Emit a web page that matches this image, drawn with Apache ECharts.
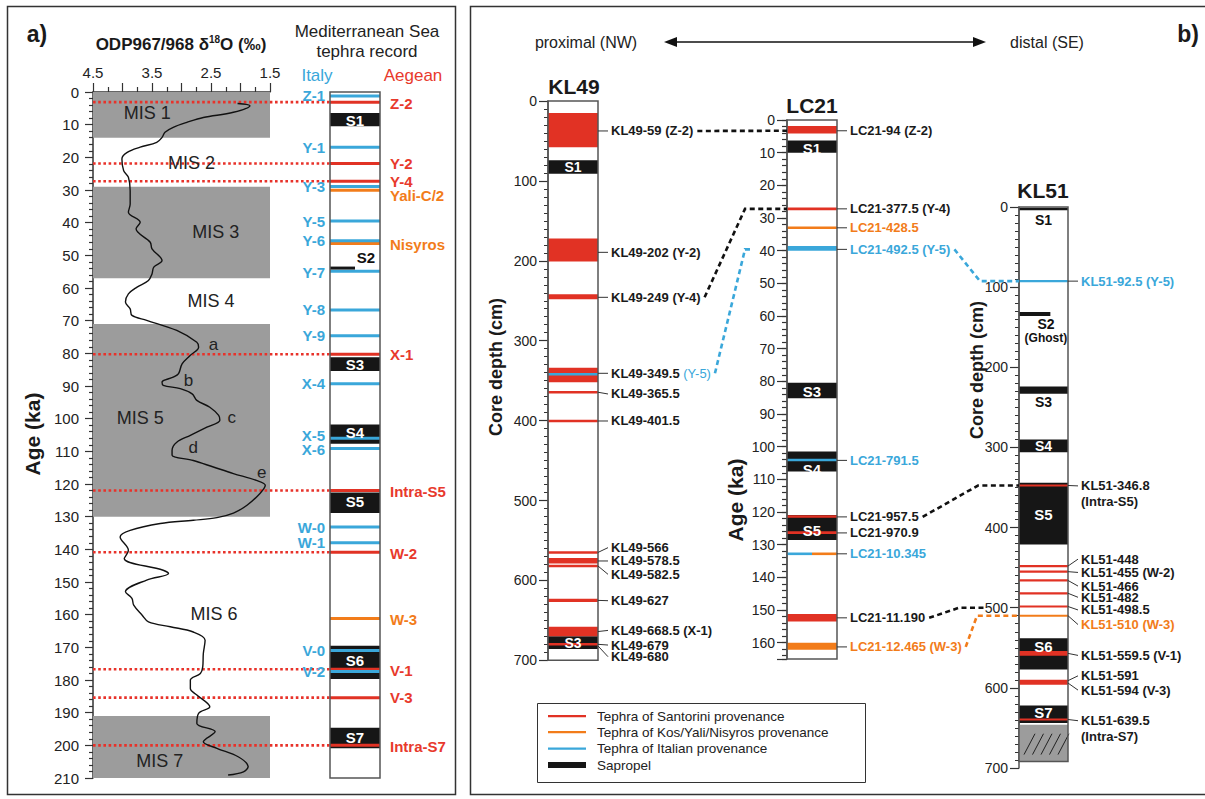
<!DOCTYPE html>
<html lang="en">
<head>
<meta charset="UTF-8">
<title>Mediterranean tephra record</title>
<script src="https://cdn.jsdelivr.net/npm/echarts@6/dist/echarts.min.js"></script>
<style>
html, body { margin: 0; padding: 0; background: #fff; }
#chart { width: 1205px; height: 799px; }
</style>
</head>
<body>
<div id="chart"></div>
<script>
// ---------- panel a: ODP967/968 d18O (age ka, per mil) ----------
var d18oAge = [3.5, 4.2, 6.2, 7.8, 9.3, 10.8, 12.3, 13.9, 15.4, 16.9, 18.5, 20.5, 24.1, 26.1, 30.2, 34.3, 36.8, 39.9, 41.9, 46.0,
  48.0, 51.6, 53.6, 55.7, 57.7, 59.8, 61.8, 64.3, 66.4, 68.4, 69.9, 73.0, 76.6, 78.1, 80.6, 83.2, 86.2, 87.3, 88.8, 89.8,
  90.8, 92.4, 94.4, 96.5, 99.0, 100.5, 102.6, 105.1, 107.2, 109.7, 111.2, 112.8, 114.8, 116.8, 118.9, 120.4, 122.9, 126.5, 128.9, 130.3,
  131.1, 132.1, 134.2, 136.2, 140.3, 142.8, 146.4, 147.4, 149.4, 153.0, 155.0, 157.1, 160.1, 162.2, 163.7, 165.3, 167.8, 171.9, 176.0, 178.0,
  180.0, 182.6, 184.6, 188.2, 190.2, 193.3, 195.8, 198.9, 200.9, 203.5, 206.5, 208.1, 209.1];
var d18oVal = [2.05, 1.84, 2.12, 2.63, 2.91, 3.14, 3.28, 3.33, 3.42, 3.70, 3.92, 4.01, 3.98, 3.90, 3.87, 3.87, 3.90, 3.70, 3.77, 3.53,
  3.50, 3.33, 3.47, 3.50, 3.56, 3.76, 3.90, 3.95, 3.87, 3.84, 3.59, 3.08, 2.74, 2.71, 2.85, 2.99, 3.05, 3.14, 3.33, 3.31,
  3.02, 2.82, 2.74, 2.52, 2.37, 2.35, 2.57, 2.85, 3.08, 3.16, 3.16, 2.80, 2.46, 2.12, 1.73, 1.58, 1.67, 1.89, 2.12, 2.40,
  2.80, 3.36, 3.87, 4.04, 3.90, 3.97, 3.31, 3.22, 3.59, 3.95, 3.84, 3.81, 3.67, 3.56, 3.19, 2.80, 2.60, 2.63, 2.64, 2.68,
  2.85, 2.85, 2.74, 2.52, 2.71, 2.74, 2.43, 2.63, 2.40, 2.04, 1.87, 1.95, 2.21];
var misBands = [[0, 14], [29, 57], [71, 130], [191, 210]];
var misNames = ['MIS 1', 'MIS 2', 'MIS 3', 'MIS 4', 'MIS 5', 'MIS 6', 'MIS 7'];
var misAt = [[3.58, 6.5], [2.83, 21.7], [2.42, 42.8], [2.50, 64.0], [3.70, 99.9], [2.45, 159.8], [3.37, 204.7]];
var subStages = [['a', 2.46, 77.4], ['b', 2.88, 88.4], ['c', 2.15, 99.6], ['d', 2.80, 108.9], ['e', 1.64, 116.4]];

// Mediterranean Sea tephra record: [name, age, label age]
var medItaly = [['Z-1', 1.2, 1.2], ['Y-1', 16.9, 16.9], ['Y-3', 28.9, 29.0], ['Y-5', 39.5, 39.5], ['Y-6', 45.5, 45.5],
  ['Y-7', 54.9, 55.3], ['Y-8', 66.7, 66.7], ['Y-9', 74.6, 74.6], ['X-4', 89.3, 89.3], ['X-5', 106.0, 105.0],
  ['X-6', 109.1, 109.5], ['W-0', 133.2, 133.2], ['W-1', 138.0, 138.0], ['V-0', 171.0, 171.0], ['V-2', 177.4, 177.4]];
var medAegean = [['Z-2', 3.1, 3.4], ['Y-2', 21.9, 21.9], ['Y-4', 27.3, 27.3], ['X-1', 80.3, 80.3], ['Intra-S5', 122.0, 122.3],
  ['W-2', 140.9, 141.2], ['V-1', 176.7, 177.0], ['V-3', 185.4, 185.4], ['Intra-S7', 200.0, 200.3]];
var medKos = [['Yali-C/2', 30.1, 31.7], ['Nisyros', 46.4, 46.7], ['W-3', 161.2, 161.4]];
var medSapropels = [['S1', 6.4, 10.5], ['S3', 81.2, 85.4], ['S4', 101.8, 107.7], ['S5', 122.6, 128.9], ['S6', 169.5, 179.7], ['S7', 194.6, 200.9]];
var medS2 = 53.9;

// ---------- panel b cores ----------
// KL49, depth in cm
var kl49Sapropels = [['S1', 74, 91], ['S3', 670, 686]];
var kl49Santorini = [[15, 58], [172, 201], [242, 248], [334, 352], [364.5, 364.5], [400.5, 400.5], [565, 565], [572, 579], [582, 582], [623, 627], [658, 670], [680, 680]];
var kl49Italian = [[342, 342]];
var kl49Labels = [['KL49-59 (Z-2)', 37.5], ['KL49-202 (Y-2)', 189.4], ['KL49-249 (Y-4)', 245.7], ['KL49-349.5', 340.8, '(Y-5)'],
  ['KL49-365.5', 364.5], ['KL49-401.5', 400.5], ['KL49-566', 565], ['KL49-578.5', 575.7], ['KL49-582.5', 582],
  ['KL49-627', 625], ['KL49-668.5 (X-1)', 664], ['KL49-679', 680], ['KL49-680', 682]];
var kl49LabelAt = [37.5, 189.4, 245.7, 340.8, 366.7, 400.5, 559, 575.7, 592.4, 625.4, 662.6, 680.9, 695.5];

// LC21, age in ka
var lc21Sapropels = [['S1', 6.3, 10.0], ['S3', 80.4, 85.2], ['S4', 101.5, 107.6], ['S5', 120.9, 128.6]];
var lc21Santorini = [[1.8, 4.1], [27.2, 27.2], [121.4, 121.4], [126.3, 126.3], [151.2, 153.5]];
var lc21Kos = [[33.0, 33.0], [160.0, 162.2]];
var lc21Italian = [[38.6, 40.0], [104.1, 104.1]];
var lc21Mixed = [132.8];
var lc21Labels = [['LC21-94 (Z-2)', 3.3, 'S'], ['LC21-377.5 (Y-4)', 27.2, 'S'], ['LC21-428.5', 33.0, 'K'], ['LC21-492.5 (Y-5)', 39.6, 'I'],
  ['LC21-791.5', 104.2, 'I'], ['LC21-957.5', 121.5, 'S'], ['LC21-970.9', 126.4, 'S'], ['LC21-10.345', 132.8, 'I'],
  ['LC21-11.190', 152.4, 'S'], ['LC21-12.465 (W-3)', 161.3, 'K']];

// KL51, depth in cm
var kl51Sapropels = [['S1', 1, 4], ['S3', 224, 233], ['S4', 290, 306], ['S5', 344, 421], ['S6', 538, 577], ['S7', 622, 644]];
var kl51Ghost = [131, 136];
var kl51Santorini = [[347.5, 347.5], [448, 448], [455, 455], [466, 466], [482, 482], [498.5, 498.5], [554, 560], [590, 596], [639.5, 639.5]];
var kl51Kos = [[510, 510]];
var kl51Italian = [[92.5, 92.5]];
var kl51Base = [646, 692];
var kl51Labels = [['KL51-92.5 (Y-5)', 92.5, 'I'], ['KL51-346.8', 347.5, 'S'], ['(Intra-S5)', null, 'S'], ['KL51-448', 448, 'S'],
  ['KL51-455 (W-2)', 455, 'S'], ['KL51-466', 466, 'S'], ['KL51-482', 482, 'S'], ['KL51-498.5', 498.5, 'S'],
  ['KL51-510 (W-3)', 510, 'K'], ['KL51-559.5 (V-1)', 557, 'S'], ['KL51-591', 591, 'S'], ['KL51-594 (V-3)', 594, 'S'],
  ['KL51-639.5', 639.5, 'S'], ['(Intra-S7)', null, 'S']];
var kl51LabelAt = [92.5, 348, 367, 439.4, 456, 473, 487, 502.8, 521, 559.5, 585, 602.8, 641, 661];

// correlations: [label index in source core, depth/age in target core, provenance]
var kl49ToLc21 = [[0, 3.3, 'S'], [2, 27.2, 'S'], [3, 39.6, 'I']];
var lc21ToKl51 = [[3, 92.5, 'I'], [5, 347.5, 'S'], [8, 500, 'S'], [9, 510, 'K']];

// ---------- styles ----------
var FONT = '"Liberation Sans", Arial, Helvetica, sans-serif';
function fnt(size, bold) { return (bold ? 'bold ' : '') + size + 'px ' + FONT; }
var RED = '#e13224', ORANGE = '#f27c1a', BLUE = '#3aa7da', BLACK = '#161616', GREY = '#9c9c9c', AX = '#333';
var PROV = { S: RED, K: ORANGE, I: BLUE };
var LABEL = { S: '#1a1a1a', K: ORANGE, I: BLUE };

// ---------- helpers ----------
function marks(sap, groups) {
  var out = [];
  sap.forEach(function (s) { out.push({ f0: 0, f1: 1, y0: s[1], y1: s[2], color: BLACK }); });
  groups.forEach(function (g) {
    g[0].forEach(function (t) { out.push({ f0: 0, f1: 1, y0: t[0], y1: t[1], color: g[1] }); });
  });
  return out;
}

function columnSeries(xi, yi, list, thin) {
  return {
    type: 'custom', xAxisIndex: xi, yAxisIndex: yi, silent: true, clip: false, z: 3,
    data: list.map(function (m) { return [m.f0, m.y0, m.f1, m.y1]; }),
    renderItem: function (params, api) {
      var m = list[params.dataIndex];
      var a = api.coord([api.value(0), api.value(1)]);
      var b = api.coord([api.value(2), api.value(3)]);
      var y = a[1], h = b[1] - a[1];
      if (h < thin) { y = (a[1] + b[1]) / 2 - thin / 2; h = thin; }
      var rect = { type: 'rect', shape: { x: a[0], y: y, width: b[0] - a[0], height: h }, style: { fill: m.color } };
      if (!m.hatch) return rect;
      var kids = [rect];
      for (var k = 0; k < 5; k++) {
        var x0 = a[0] + 5 + k * 8.5;
        kids.push({ type: 'line', shape: { x1: x0, y1: y + h - 7, x2: x0 + 11, y2: y + 9 }, style: { stroke: '#222', lineWidth: 1 } });
      }
      return { type: 'group', children: kids };
    }
  };
}

function outlineSeries(xi, yi, bottom) {
  return {
    type: 'custom', xAxisIndex: xi, yAxisIndex: yi, silent: true, clip: false, z: 4,
    data: [[0, 0, 1, bottom]],
    renderItem: function (params, api) {
      var a = api.coord([api.value(0), api.value(1)]);
      var b = api.coord([api.value(2), api.value(3)]);
      return { type: 'rect', shape: { x: a[0], y: a[1], width: b[0] - a[0], height: b[1] - a[1] },
        style: { fill: null, stroke: '#555', lineWidth: 1.5 } };
    }
  };
}

// items: {x, y, text, font, fill, align, dx}
function textSeries(xi, yi, items) {
  return {
    type: 'custom', xAxisIndex: xi, yAxisIndex: yi, silent: true, clip: false, z: 5,
    data: items.map(function (t) { return [t.x, t.y]; }),
    renderItem: function (params, api) {
      var t = items[params.dataIndex];
      var p = api.coord([api.value(0), api.value(1)]);
      return { type: 'text', x: p[0] + (t.dx || 0), y: p[1],
        style: { text: t.text, font: t.font, fill: t.fill, align: t.align || 'center', verticalAlign: 'middle' } };
    }
  };
}

// items: {from, at, text, fill, note, noteFill}
function leaderSeries(xi, yi, items) {
  return {
    type: 'custom', xAxisIndex: xi, yAxisIndex: yi, silent: true, clip: false, z: 5,
    data: items.map(function (t) { return [1, t.at]; }),
    renderItem: function (params, api) {
      var t = items[params.dataIndex];
      var p = api.coord([api.value(0), api.value(1)]);
      var kids = [];
      if (t.from !== null) {
        var q = api.coord([1, t.from]);
        kids.push({ type: 'polyline', shape: { points: [[q[0], q[1]], [q[0] + 10, p[1]]] }, style: { stroke: '#333', lineWidth: 1, fill: null } });
      }
      var style = { font: fnt(13, true), fill: t.fill, align: 'left', verticalAlign: 'middle' };
      if (t.note) {
        style.text = '{m|' + t.text + '} {n|' + t.note + '}';
        style.rich = { m: { font: fnt(13, true), fill: t.fill }, n: { font: fnt(13, false), fill: t.noteFill } };
      } else {
        style.text = t.text;
      }
      kids.push({ type: 'text', x: p[0] + 13, y: p[1], style: style });
      return { type: 'group', children: kids };
    }
  };
}

function hiddenX(g) { return { gridIndex: g, type: 'value', min: 0, max: 1, show: false }; }
function hiddenY(g, max) { return { gridIndex: g, type: 'value', min: 0, max: max, inverse: true, show: false }; }
function depthAxis(g, max, interval, tickLen, margin, lineColor) {
  return {
    gridIndex: g, type: 'value', min: 0, max: max, interval: interval, inverse: true, position: 'left',
    axisLine: { show: true, onZero: false, lineStyle: { color: lineColor, width: 1.5 } },
    axisTick: { show: true, inside: false, length: tickLen, lineStyle: { color: AX, width: 1.2 } },
    axisLabel: { show: true, margin: margin, fontSize: 14, fontFamily: FONT, color: '#222',
      formatter: function (v) { return v % interval === 0 ? String(v) : ''; } },
    splitLine: { show: false }
  };
}

// ---------- build column data ----------
var medMarks = marks(medSapropels, [
  [medAegean.map(function (t) { return [t[1], t[1]]; }), RED],
  [medKos.map(function (t) { return [t[1], t[1]]; }), ORANGE],
  [medItaly.map(function (t) { return [t[1], t[1]]; }), BLUE]
]);
medMarks.push({ f0: 0, f1: 0.5, y0: medS2, y1: medS2, color: BLACK });

var kl49Marks = marks(kl49Sapropels, [[kl49Santorini, RED], [kl49Italian, BLUE]]);
var lc21Marks = marks(lc21Sapropels, [[lc21Santorini, RED], [lc21Kos, ORANGE], [lc21Italian, BLUE]]);
lc21Mixed.forEach(function (a) {
  lc21Marks.push({ f0: 0, f1: 0.5, y0: a, y1: a, color: BLUE });
  lc21Marks.push({ f0: 0.5, f1: 1, y0: a, y1: a, color: ORANGE });
});
var kl51Marks = [{ f0: 0, f1: 1, y0: kl51Base[0], y1: kl51Base[1], color: GREY, hatch: true }]
  .concat(marks(kl51Sapropels, [[kl51Santorini, RED], [kl51Kos, ORANGE], [kl51Italian, BLUE]]));
kl51Marks.push({ f0: 0, f1: 0.64, y0: kl51Ghost[0], y1: kl51Ghost[1], color: BLACK });

// panel a column texts
var medTexts = [];
medItaly.forEach(function (t) { medTexts.push({ x: 0, y: t[2], text: t[0], font: fnt(15, true), fill: BLUE, align: 'right', dx: -5 }); });
medAegean.forEach(function (t) { medTexts.push({ x: 1, y: t[2], text: t[0], font: fnt(15, true), fill: '#e8392c', align: 'left', dx: 10 }); });
medKos.forEach(function (t) { medTexts.push({ x: 1, y: t[2], text: t[0], font: fnt(15, true), fill: ORANGE, align: 'left', dx: 10 }); });
var medSapLabelAt = [8.7, 83.3, 104.2, 125.5, 174.0, 197.7];
medSapropels.forEach(function (s, i) { medTexts.push({ x: 0.5, y: medSapLabelAt[i], text: s[0], font: fnt(15, true), fill: '#fff' }); });
medTexts.push({ x: 0.72, y: 50.8, text: 'S2', font: fnt(15, true), fill: '#111' });

var kl49Texts = [{ x: 0.5, y: 82.5, text: 'S1', font: fnt(14, true), fill: '#fff' }, { x: 0.5, y: 678, text: 'S3', font: fnt(14, true), fill: '#fff' }];
var lc21SapLabelAt = [8.6, 83.2, 107.0, 125.6];
var lc21Texts = lc21Sapropels.map(function (s, i) { return { x: 0.5, y: lc21SapLabelAt[i], text: s[0], font: fnt(15, true), fill: '#fff' }; });
var kl51Texts = [
  { x: 0.5, y: 16, text: 'S1', font: fnt(14, true), fill: '#111' },
  { x: 0.55, y: 146, text: 'S2', font: fnt(14, true), fill: '#111' },
  { x: 0.55, y: 164, text: '(Ghost)', font: fnt(12, true), fill: '#111' },
  { x: 0.5, y: 243, text: 'S3', font: fnt(14, true), fill: '#111' },
  { x: 0.5, y: 298, text: 'S4', font: fnt(14, true), fill: '#fff' },
  { x: 0.5, y: 384, text: 'S5', font: fnt(15, true), fill: '#fff' },
  { x: 0.5, y: 548, text: 'S6', font: fnt(15, true), fill: '#fff' },
  { x: 0.5, y: 631, text: 'S7', font: fnt(15, true), fill: '#fff' }
];

var kl49Leaders = kl49Labels.map(function (l, i) {
  return { from: l[1], at: kl49LabelAt[i], text: l[0], fill: LABEL.S, note: l[2] || '', noteFill: BLUE };
});
var lc21Leaders = lc21Labels.map(function (l) { return { from: l[1], at: l[1], text: l[0], fill: LABEL[l[2]] }; });
var kl51Leaders = kl51Labels.map(function (l, i) { return { from: l[1], at: kl51LabelAt[i], text: l[0], fill: LABEL[l[2]] }; });

var misTexts = misNames.map(function (n, i) { return { x: misAt[i][0], y: misAt[i][1], text: n, font: fnt(18, false), fill: '#222' }; })
  .concat(subStages.map(function (s) { return { x: s[1], y: s[2], text: s[0], font: fnt(17, false), fill: '#222' }; }));

// ---------- option ----------
var option = {
  animation: false,
  backgroundColor: '#fff',
  grid: [
    { left: 93, top: 92, width: 177, height: 686, outerBoundsMode: 'none' },   // 0 d18O
    { left: 330, top: 92, width: 50, height: 686, outerBoundsMode: 'none' },   // 1 tephra record
    { left: 93, top: 92, width: 237, height: 686, outerBoundsMode: 'none' },   // 2 dotted tie lines
    { left: 548, top: 101, width: 50, height: 559.3, outerBoundsMode: 'none' },// 3 KL49
    { left: 787, top: 120, width: 50, height: 539, outerBoundsMode: 'none' },  // 4 LC21
    { left: 1019, top: 207, width: 49, height: 561, outerBoundsMode: 'none' }  // 5 KL51
  ],
  xAxis: [
    { gridIndex: 0, type: 'value', min: 1.5, max: 4.5, interval: 0.5, inverse: true, position: 'top',
      axisLine: { show: true, onZero: false, lineStyle: { color: AX, width: 1.5 } },
      axisTick: { show: true, inside: false, length: 9, lineStyle: { color: AX, width: 1.2 } },
      minorTick: { show: true, splitNumber: 2, length: 5, lineStyle: { color: AX, width: 1.2 } },
      axisLabel: { margin: 12, fontSize: 15, fontFamily: FONT, color: '#222',
        formatter: function (v) { return Math.round(v * 2) % 2 === 1 ? v.toFixed(1) : ''; } },
      splitLine: { show: false }, minorSplitLine: { show: false } },
    hiddenX(1), hiddenX(2), hiddenX(3), hiddenX(4), hiddenX(5)
  ],
  yAxis: [
    { gridIndex: 0, type: 'value', min: 0, max: 210, interval: 10, inverse: true, position: 'left',
      axisLine: { show: true, onZero: false, lineStyle: { color: AX, width: 1.5 } },
      axisTick: { show: true, inside: false, length: 8, lineStyle: { color: AX, width: 1.2 } },
      minorTick: { show: true, splitNumber: 5, length: 4, lineStyle: { color: AX, width: 1.2 } },
      axisLabel: { margin: 14, fontSize: 15, fontFamily: FONT, color: '#222' },
      splitLine: { show: false }, minorSplitLine: { show: false } },
    hiddenY(1, 210), hiddenY(2, 210),
    Object.assign(depthAxis(3, 700, 100, 9, 11, '#555'), { minorTick: { show: true, splitNumber: 10, length: 4, lineStyle: { color: AX } } }),
    depthAxis(4, 165, 10, 10, 12, '#555'),
    { gridIndex: 4, type: 'value', min: 0, max: 165, interval: 2, inverse: true, position: 'left',
      axisLine: { show: false }, axisLabel: { show: false }, splitLine: { show: false },
      axisTick: { show: true, inside: false, length: 5, lineStyle: { color: AX, width: 1.2 } } },
    Object.assign(depthAxis(5, 700, 100, 9, 11, '#555'), { minorTick: { show: true, splitNumber: 10, length: 4, lineStyle: { color: AX } } })
  ],
  series: [
    // 0 MIS shading
    { type: 'custom', xAxisIndex: 0, yAxisIndex: 0, silent: true, z: 1,
      data: misBands.map(function (b) { return [4.5, b[0], 1.5, b[1]]; }),
      renderItem: function (params, api) {
        var a = api.coord([api.value(0), api.value(1)]);
        var b = api.coord([api.value(2), api.value(3)]);
        return { type: 'rect', shape: { x: a[0], y: a[1], width: b[0] - a[0], height: b[1] - a[1] }, style: { fill: GREY } };
      } },
    // 1 Santorini tie lines
    { type: 'custom', xAxisIndex: 2, yAxisIndex: 2, silent: true, z: 2,
      data: medAegean.map(function (t) { return [0, t[1]]; }),
      renderItem: function (params, api) {
        var a = api.coord([0, api.value(1)]);
        var b = api.coord([1, api.value(1)]);
        return { type: 'line', shape: { x1: a[0], y1: a[1], x2: b[0], y2: b[1] },
          style: { stroke: '#e8322a', lineWidth: 2.6, lineDash: [2.6, 2.6] } };
      } },
    // 2 d18O curve
    { type: 'line', xAxisIndex: 0, yAxisIndex: 0, showSymbol: false, symbol: 'none', smooth: 0.35, z: 3, silent: true,
      data: d18oAge.map(function (a, i) { return [d18oVal[i], a]; }),
      lineStyle: { color: '#111', width: 1.4 } },
    // 3 MIS labels
    textSeries(0, 0, misTexts),
    // 4-6 tephra record column
    columnSeries(1, 1, medMarks, 3),
    outlineSeries(1, 1, 210),
    textSeries(1, 1, medTexts),
    // 7-10 KL49
    columnSeries(3, 3, kl49Marks, 2.6),
    outlineSeries(3, 3, 700),
    textSeries(3, 3, kl49Texts),
    leaderSeries(3, 3, kl49Leaders),
    // 11-14 LC21
    columnSeries(4, 4, lc21Marks, 2.6),
    outlineSeries(4, 4, 165),
    textSeries(4, 4, lc21Texts),
    leaderSeries(4, 4, lc21Leaders),
    // 15-18 KL51
    columnSeries(5, 6, kl51Marks, 2.2),
    outlineSeries(5, 6, 692),
    textSeries(5, 6, kl51Texts),
    leaderSeries(5, 6, kl51Leaders)
  ]
};

function gText(id, x, y, text, font, fill, extra) {
  var el = { type: 'text', id: id, x: x, y: y, z: 10, silent: true,
    style: { text: text, font: font, fill: fill || '#1a1a1a', align: 'center', verticalAlign: 'middle' } };
  if (extra) Object.assign(el, extra);
  return el;
}
var staticGraphics = [
  { type: 'rect', id: 'boxA', silent: true, shape: { x: 7.5, y: 6.5, width: 448, height: 788 }, style: { fill: null, stroke: '#333', lineWidth: 1.5 } },
  { type: 'rect', id: 'boxB', silent: true, shape: { x: 470.5, y: 6.5, width: 740, height: 788 }, style: { fill: null, stroke: '#333', lineWidth: 1.5 } },
  gText('ta', 37, 34, 'a)', fnt(23, true)),
  { type: 'text', id: 'title', x: 181, y: 44, z: 10, silent: true,
    style: { text: '{b|ODP967/968 δ}{s|18}{b|O (‰)}', align: 'center', verticalAlign: 'middle',
      rich: { b: { font: fnt(17, true), fill: '#1a1a1a', lineHeight: 20 }, s: { font: fnt(10, true), fill: '#1a1a1a', verticalAlign: 'top', lineHeight: 20 } } } },
  gText('med1', 367, 31, 'Mediterranean Sea', fnt(17, false), '#222'),
  gText('med2', 367, 51, 'tephra record', fnt(17, false), '#222'),
  gText('italy', 317, 75, 'Italy', fnt(17, false), BLUE),
  gText('aegean', 413, 75, 'Aegean', fnt(17, false), '#e8392c'),
  gText('ageA', 32, 434, 'Age (ka)', fnt(21, true), '#1a1a1a', { rotation: Math.PI / 2 }),
  gText('tb', 1188, 34, 'b)', fnt(23, true)),
  gText('prox', 586, 42, 'proximal (NW)', fnt(16, false), '#222'),
  gText('dist', 1047, 42, 'distal (SE)', fnt(16, false), '#222'),
  { type: 'line', id: 'arrowL', silent: true, shape: { x1: 672, y1: 42, x2: 978, y2: 42 }, style: { stroke: '#111', lineWidth: 1.3 } },
  { type: 'polygon', id: 'headL', silent: true, shape: { points: [[664, 42], [677, 37], [677, 47]] }, style: { fill: '#111' } },
  { type: 'polygon', id: 'headR', silent: true, shape: { points: [[986, 42], [973, 37], [973, 47]] }, style: { fill: '#111' } },
  gText('hKL49', 574, 86, 'KL49', fnt(21, true)),
  gText('hLC21', 812, 105, 'LC21', fnt(21, true)),
  gText('hKL51', 1043, 190, 'KL51', fnt(21, true)),
  gText('dKL49', 496, 367, 'Core depth (cm)', fnt(18, true), '#1a1a1a', { rotation: Math.PI / 2 }),
  gText('aLC21', 735, 500, 'Age (ka)', fnt(21, true), '#1a1a1a', { rotation: Math.PI / 2 }),
  gText('dKL51', 977, 370, 'Core depth (cm)', fnt(18, true), '#1a1a1a', { rotation: Math.PI / 2 }),
  // legend
  { type: 'rect', id: 'legBox', silent: true, shape: { x: 537.5, y: 703.5, width: 328, height: 79 }, style: { fill: '#fff', stroke: '#333', lineWidth: 1 } },
  { type: 'rect', id: 'leg1', silent: true, shape: { x: 548, y: 715, width: 38, height: 2.2 }, style: { fill: RED } },
  { type: 'rect', id: 'leg2', silent: true, shape: { x: 548, y: 731, width: 38, height: 2.2 }, style: { fill: ORANGE } },
  { type: 'rect', id: 'leg3', silent: true, shape: { x: 548, y: 747.5, width: 38, height: 2.2 }, style: { fill: BLUE } },
  { type: 'rect', id: 'leg4', silent: true, shape: { x: 548, y: 762, width: 38, height: 6 }, style: { fill: BLACK } },
  gText('lt1', 597, 716, 'Tephra of Santorini provenance', fnt(13.5, false), '#222', { style: { text: 'Tephra of Santorini provenance', font: fnt(13.5, false), fill: '#222', align: 'left', verticalAlign: 'middle' } }),
  gText('lt2', 597, 732, '', '', '', { style: { text: 'Tephra of Kos/Yali/Nisyros provenance', font: fnt(13.5, false), fill: '#222', align: 'left', verticalAlign: 'middle' } }),
  gText('lt3', 597, 748.5, '', '', '', { style: { text: 'Tephra of Italian provenance', font: fnt(13.5, false), fill: '#222', align: 'left', verticalAlign: 'middle' } }),
  gText('lt4', 597, 765, '', '', '', { style: { text: 'Sapropel', font: fnt(13.5, false), fill: '#222', align: 'left', verticalAlign: 'middle' } })
];
option.graphic = staticGraphics;

var chart = echarts.init(document.getElementById('chart'), null, { renderer: 'svg' });
chart.setOption(option);

// ---------- dashed correlation lines (positions through the axes) ----------
var measure = document.createElement('canvas').getContext('2d');
function textW(s, font) { measure.font = font; return measure.measureText(s).width; }
function labelEnd(seriesIdx, y, text, note) {
  var p = chart.convertToPixel({ seriesIndex: seriesIdx }, [1, y]);
  var w = textW(text, fnt(13, true));
  if (note) w += textW(' ' + note, fnt(13, false));
  return [p[0] + 13 + w, p[1]];
}
var links = [];
var kl49Knee = [null, -42, -42], kl49End = [0, 0, -34];
kl49ToLc21.forEach(function (c, i) {
  var l = kl49Labels[c[0]];
  var s = labelEnd(10, kl49LabelAt[c[0]], l[0], l[2]);
  var t = chart.convertToPixel({ seriesIndex: 12 }, [0, c[1]]);
  var pts = [[s[0] + 4, s[1]]];
  if (kl49Knee[i] !== null) pts.push([t[0] + kl49Knee[i], t[1]]);
  pts.push([t[0] + kl49End[i], t[1]]);
  links.push({ pts: pts, prov: c[2] });
});
var lc21Knee = [-39, -41, -60, -42], lc21End = [0, 0, -33, 0];
lc21ToKl51.forEach(function (c, i) {
  var l = lc21Labels[c[0]];
  var s = labelEnd(14, l[1], l[0]);
  var t = chart.convertToPixel({ seriesIndex: 16 }, [0, c[1]]);
  links.push({ pts: [[s[0] + 4, s[1]], [t[0] + lc21Knee[i], t[1]], [t[0] + lc21End[i], t[1]]], prov: c[2] });
});
var linkGraphics = links.map(function (k, i) {
  return { type: 'polyline', id: 'link' + i, silent: true, z: 6, shape: { points: k.pts },
    style: { fill: null, stroke: k.prov === 'S' ? '#111' : PROV[k.prov], lineWidth: 2.6, lineDash: [5, 3.5] } };
});
chart.setOption({ graphic: staticGraphics.concat(linkGraphics) });
</script>
</body>
</html>
